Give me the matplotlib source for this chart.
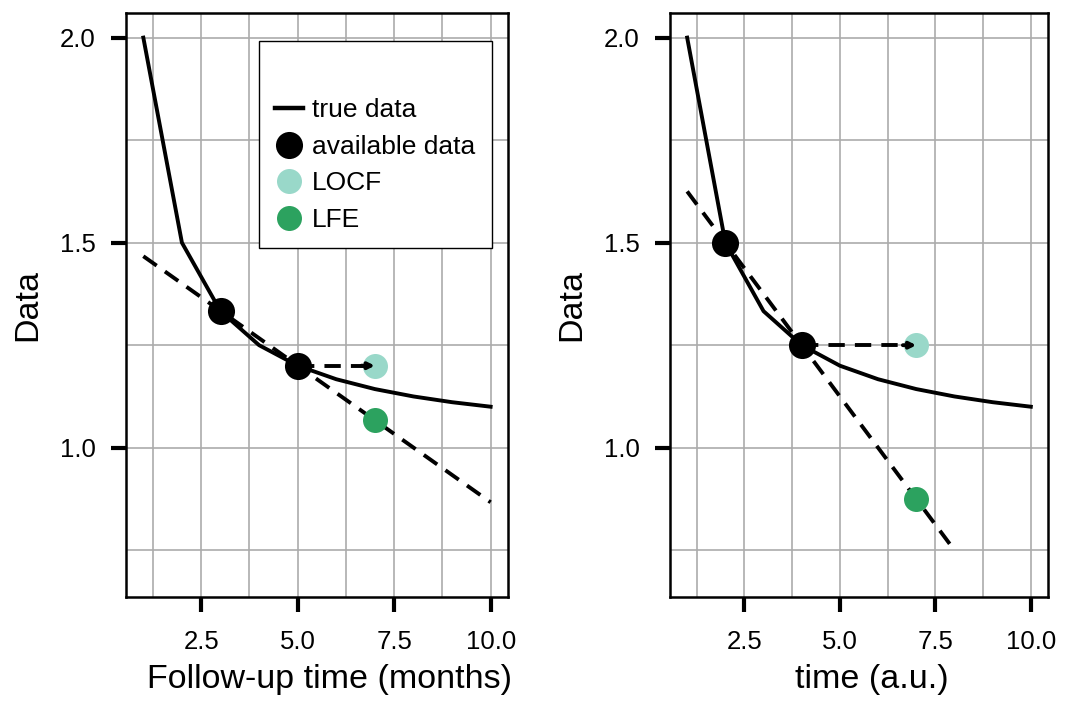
import matplotlib
matplotlib.use("Agg")
import matplotlib.pyplot as plt
from matplotlib.lines import Line2D

plt.rcParams['font.family'] = ['Liberation Sans', 'DejaVu Sans']

# true curve (same in both panels)
time = [1, 2, 3, 4, 5, 6, 7, 8, 9, 10]
true_data = [2.0, 1.5, 1.333, 1.25, 1.2, 1.167, 1.143, 1.125, 1.111, 1.1]

# left panel: observed at 3 and 5, imputed at 7
left_obs_x = [3, 5]
left_obs_y = [1.333, 1.2]
left_locf = (7, 1.2)
left_lfe = (7, 1.067)
left_trend_x = [1, 10]
left_trend_y = [1.467, 0.867]

# right panel: observed at 2 and 4, imputed at 7
right_obs_x = [2, 4]
right_obs_y = [1.5, 1.25]
right_locf = (7, 1.25)
right_lfe = (7, 0.875)
right_trend_x = [1, 8]
right_trend_y = [1.625, 0.75]

xlabels = ['Follow-up time (months)', 'time (a.u.)']

LOCF_COL = '#99d8c9'
LFE_COL = '#2ca25f'
LW = 2.8
DASH = (0, (4.2, 2.6))

fig = plt.figure(figsize=(10.85, 7.04), dpi=100)
ax1 = fig.add_axes([0.1161, 0.152, 0.3521, 0.8295])
ax2 = fig.add_axes([0.6175, 0.152, 0.3484, 0.8295])

panels = [
    (ax1, left_obs_x, left_obs_y, left_locf, left_lfe, left_trend_x, left_trend_y),
    (ax2, right_obs_x, right_obs_y, right_locf, right_lfe, right_trend_x, right_trend_y),
]

for i, (ax, ox, oy, locf, lfe, tx, ty) in enumerate(panels):
    ax.set_xlim(0.55, 10.45)
    ax.set_ylim(0.636, 2.06)
    ax.set_xticks([2.5, 5.0, 7.5, 10.0])
    ax.set_xticklabels(['2.5', '5.0', '7.5', '10.0'])
    ax.set_yticks([1.0, 1.5, 2.0])
    ax.set_yticklabels(['1.0', '1.5', '2.0'])
    ax.set_xticks([1.25, 3.75, 6.25, 8.75], minor=True)
    ax.set_yticks([0.75, 1.25, 1.75], minor=True)
    ax.grid(True, which='both', color='#ababab', lw=1.2, zorder=0)
    ax.set_axisbelow(True)
    ax.tick_params(which='major', length=11, width=3, labelsize=18.5,
                   direction='out', color='black')
    ax.tick_params(axis='y', pad=11)
    ax.tick_params(axis='x', pad=13)
    ax.tick_params(which='minor', length=0)
    for s in ax.spines.values():
        s.set_linewidth(1.8)

    ax.plot(time, true_data, color='black', lw=LW, zorder=3)
    ax.plot(tx, ty, color='black', lw=LW, ls=DASH, zorder=3)
    ax.plot([ox[1], locf[0] - 0.2], [oy[1], locf[1]], color='black', lw=LW, ls=DASH, zorder=3)
    ax.annotate('', xy=locf, xytext=(locf[0] - 0.35, locf[1]),
                arrowprops=dict(arrowstyle='->', color='black', lw=LW,
                                mutation_scale=9, shrinkA=0, shrinkB=0), zorder=3)
    ax.plot([locf[0]], [locf[1]], 'o', color=LOCF_COL, ms=18, mew=0, zorder=2)
    ax.plot([lfe[0]], [lfe[1]], 'o', color=LFE_COL, ms=18, mew=0, zorder=4)
    ax.plot(ox, oy, 'o', color='black', ms=19.5, mew=0, zorder=4)

    ax.set_xlabel(xlabels[i], fontsize=24.5)
    ax.xaxis.set_label_coords(0.533, -0.115)
    ax.set_ylabel('Data', fontsize=24.5, labelpad=12)

handles = [
    Line2D([], [], color='black', lw=3.2),
    Line2D([], [], marker='o', ls='', color='black', ms=19.5, mew=0),
    Line2D([], [], marker='o', ls='', color=LOCF_COL, ms=18, mew=0),
    Line2D([], [], marker='o', ls='', color=LFE_COL, ms=18, mew=0),
]
leg = ax1.legend(handles, ['true data', 'available data', 'LOCF', 'LFE'],
                 loc='upper left', bbox_to_anchor=(0.348, 0.952), fontsize=19,
                 title=' ', title_fontsize=21, frameon=True, fancybox=False,
                 edgecolor='black', framealpha=1, handlelength=1.05,
                 handletextpad=0.35, labelspacing=0.48, borderpad=0.62,
                 borderaxespad=0)
leg.get_frame().set_linewidth(1.0)

fig.savefig('out.png', dpi=100)
